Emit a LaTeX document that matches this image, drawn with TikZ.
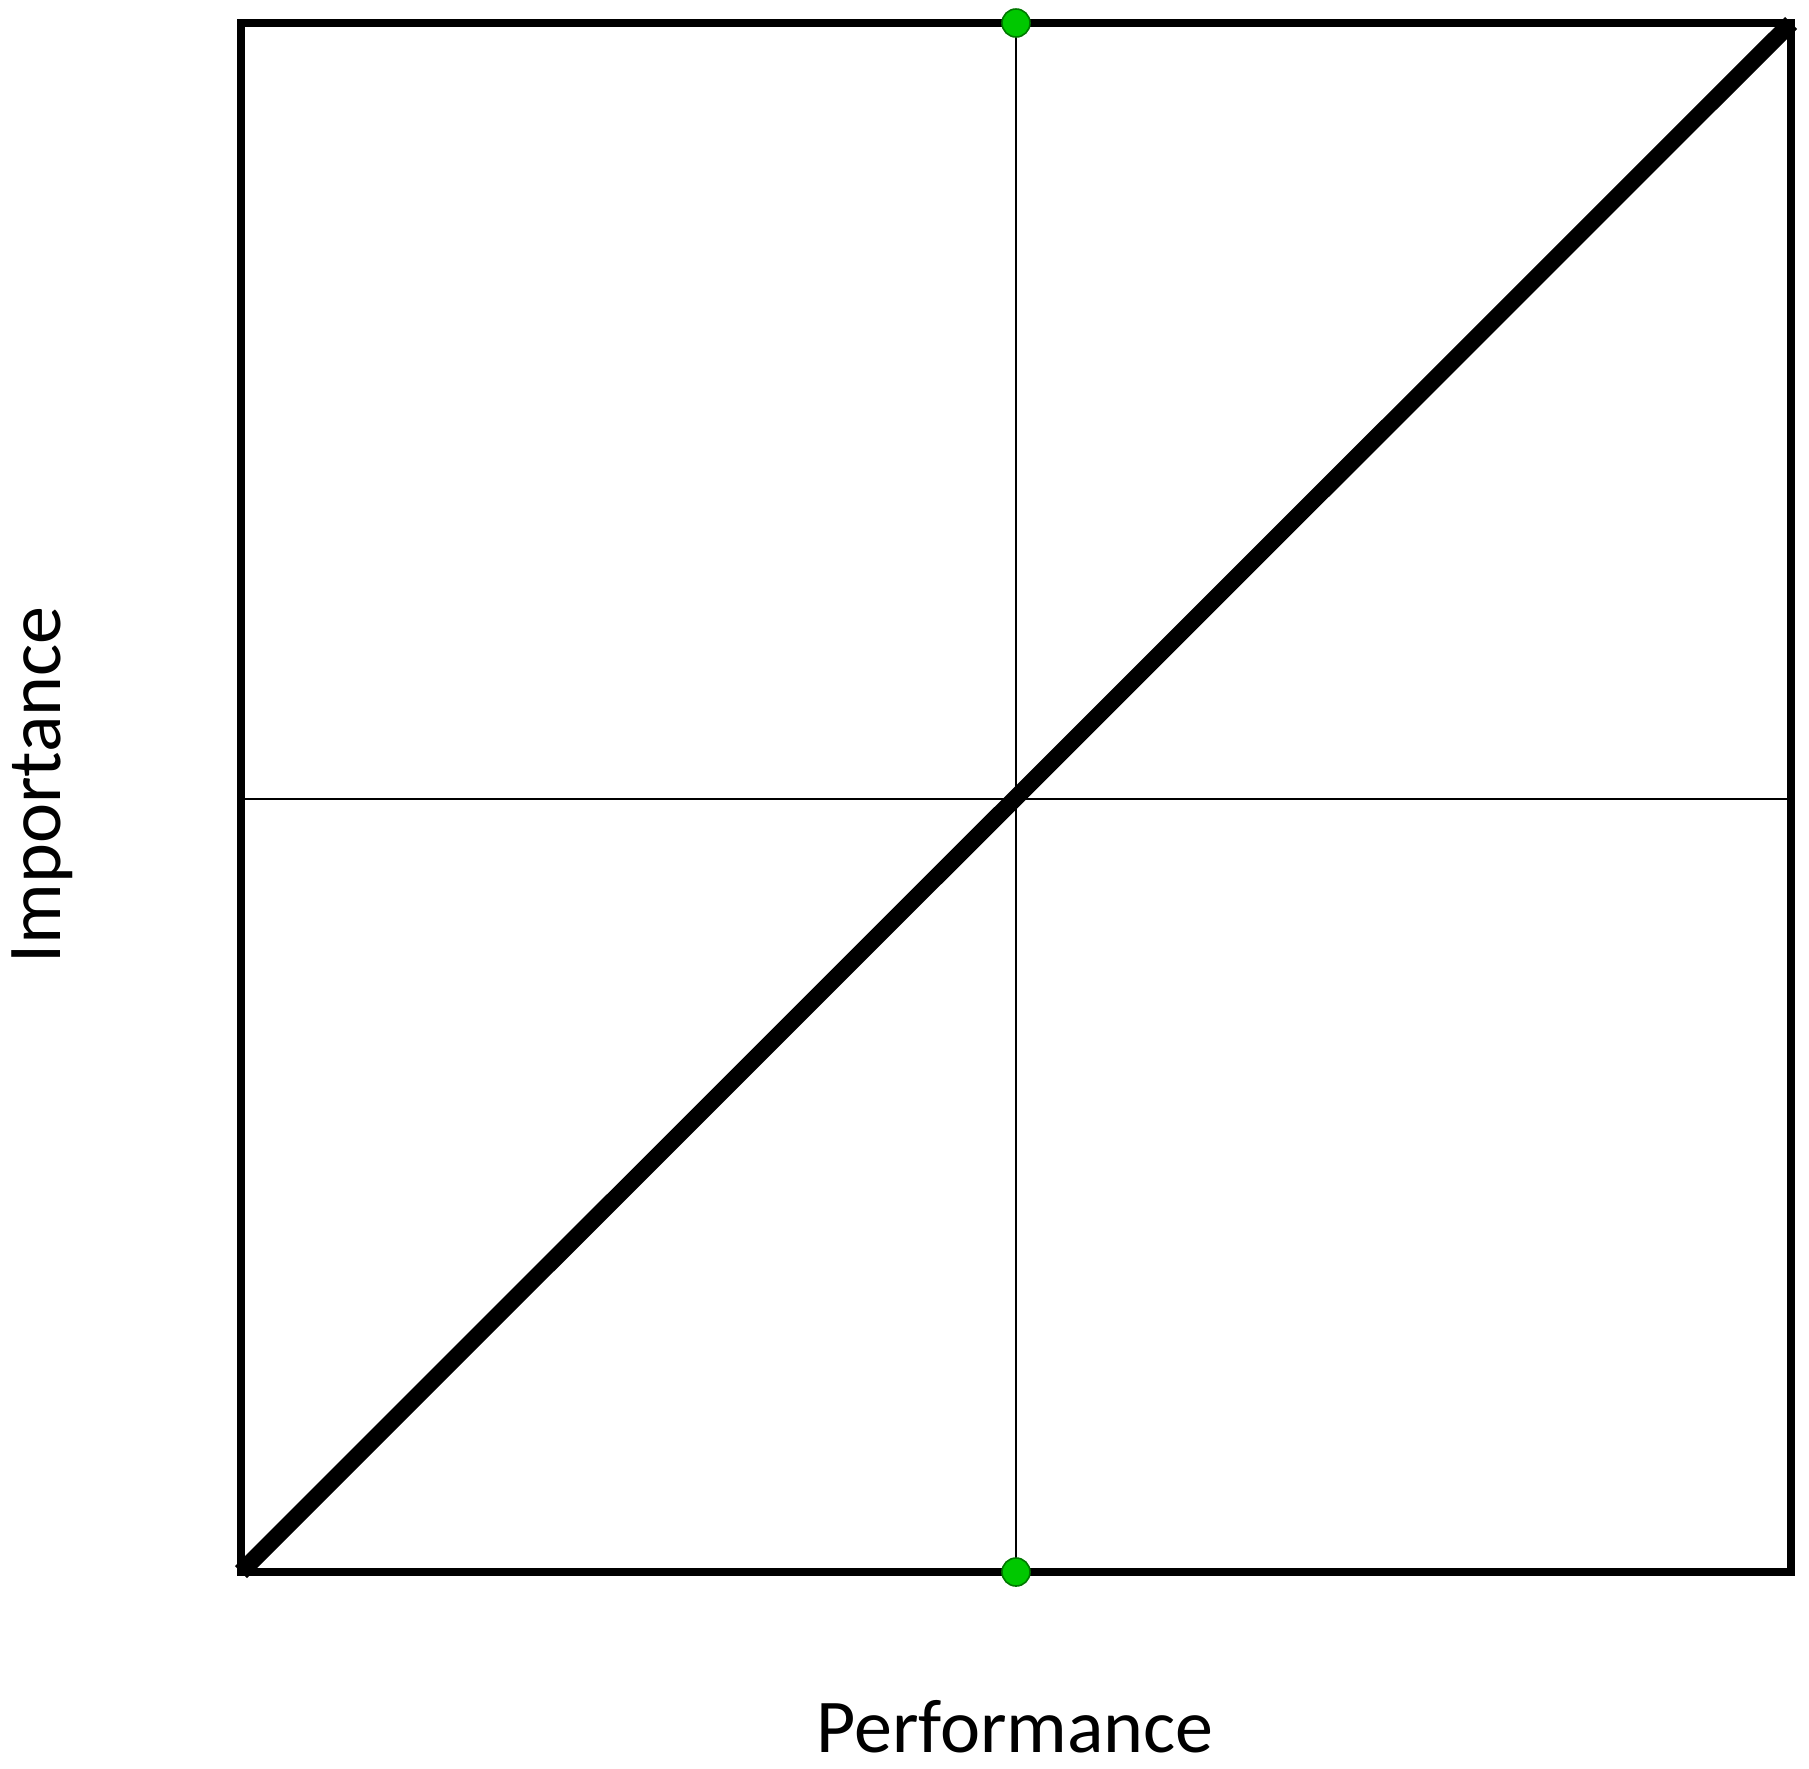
\documentclass[tikz,border=0pt]{standalone}
\usepackage{fontspec}
\setmainfont{Carlito}
\definecolor{dotgreen}{RGB}{0,200,0}
\definecolor{dotedge}{RGB}{0,120,0}
\begin{document}
\begin{tikzpicture}[x=0.5pt,y=-0.5pt,
  frame/.style={line width=4pt,line join=miter},
  thin/.style={line width=1.1pt},
  diag/.style={line width=8.5pt,line cap=butt},
  gdot/.style={circle,fill=dotgreen,draw=dotedge,line width=0.8pt,minimum size=14pt,inner sep=0pt},
  lab/.style={font=\fontsize{38}{45}\selectfont,inner sep=0pt}]
\useasboundingbox (0,0) rectangle (1809,1768);
\coordinate (bl) at (241,1572);
\coordinate (tr) at (1791,23);
\coordinate (tm) at (1016,23);
\coordinate (bm) at (1016,1572);
\coordinate (ml) at (241,799);
\coordinate (mr) at (1791,799);
\draw[thin] (tm) -- (bm);
\draw[thin] (ml) -- (mr);
\draw[frame] (bl) rectangle (tr);
\draw[diag] (bl) -- (tr);
\node[gdot] (dtop) at (tm) {};
\node[gdot] (dbot) at (bm) {};
\node[lab,anchor=base] (perf) at (1015,1752) {Performance};
\node[lab,anchor=base,rotate=90] (imp) at (60,785) {Importance};
\end{tikzpicture}
\end{document}
